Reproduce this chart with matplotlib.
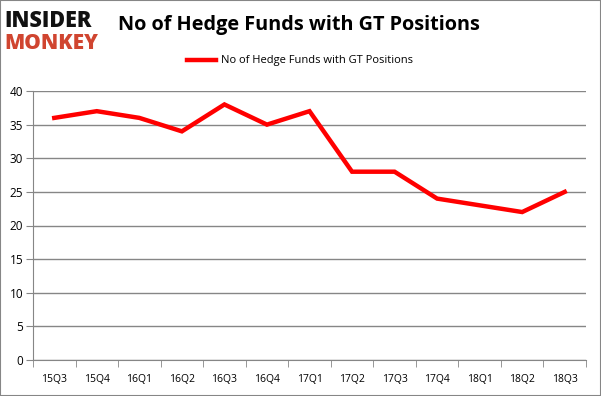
import matplotlib.pyplot as plt
import numpy as np
from matplotlib.patches import Rectangle

quarters = ["15Q3", "15Q4", "16Q1", "16Q2", "16Q3", "16Q4", "17Q1",
            "17Q2", "17Q3", "17Q4", "18Q1", "18Q2", "18Q3"]
num_funds = [36, 37, 36, 34, 38, 35, 37, 28, 28, 24, 23, 22, 25]
y_ticks = [0, 5, 10, 15, 20, 25, 30, 35, 40]

plt.rcParams["font.family"] = ["Open Sans", "DejaVu Sans"]

fig = plt.figure(figsize=(6.01, 3.96), dpi=100)
ax = fig.add_axes([33 / 601, 1 - 360 / 396, 553 / 601, 269 / 396])

x = np.arange(len(quarters))
ax.plot(x, num_funds, color="#ff0000", lw=3.2, solid_joinstyle="miter",
        label="No of Hedge Funds with GT Positions")

ax.set_xlim(-0.5, len(quarters) - 0.5)
ax.set_ylim(0, 40)
ax.set_yticks(y_ticks)
ax.set_yticklabels([str(v) for v in y_ticks], fontsize=8.5)
ax.set_xticks(x)
ax.set_xticklabels(quarters, fontsize=7.5)
ax.set_xticks(np.arange(-0.5, len(quarters)), minor=True)
ax.tick_params(axis="x", which="major", length=0, pad=10)
ax.tick_params(axis="x", which="minor", length=5, color="#868686")
ax.tick_params(axis="y", length=5, color="#868686", pad=2)
ax.grid(axis="y", color="#868686", lw=1)
ax.set_axisbelow(True)
for side in ["top", "right"]:
    ax.spines[side].set_visible(False)
for side in ["left", "bottom"]:
    ax.spines[side].set_color("#868686")

ax.legend(loc="center", bbox_to_anchor=(300 / 601, 1 - 61 / 396),
          bbox_transform=fig.transFigure, frameon=False, fontsize=8,
          handlelength=2.6, handletextpad=0.5)

fig.text(118 / 601, 1 - 25 / 396, "No of Hedge Funds with GT Positions",
         fontsize=14.3, fontweight="bold", va="center", ha="left")
fig.text(4 / 601, 1 - 27 / 396, "INSIDER", fontsize=15.5, fontweight="heavy",
         color="#111111", va="baseline", ha="left")
fig.text(4 / 601, 1 - 49 / 396, "MONKEY", fontsize=15, fontweight="heavy",
         color="#d04530", va="baseline", ha="left")

fig.patches.append(Rectangle((0, 0), 1, 1, transform=fig.transFigure,
                             fill=False, edgecolor="#868686", lw=1.5))

fig.savefig("out.png", dpi=100)
